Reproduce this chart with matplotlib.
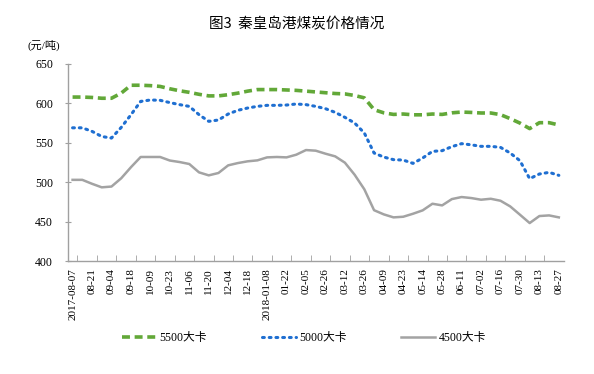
import matplotlib
matplotlib.use("Agg")
import matplotlib.pyplot as plt
import numpy as np

plt.rcParams['font.family'] = ['Liberation Serif', 'Noto Sans CJK SC', 'DejaVu Sans']

dates = ["2017-08-07", "08-14", "08-21", "08-28", "09-04", "09-11", "09-18", "09-25",
         "10-09", "10-16", "10-23", "10-30", "11-06", "11-13", "11-20", "11-27",
         "12-04", "12-11", "12-18", "12-25", "2018-01-08", "01-15", "01-22", "01-29",
         "02-05", "02-12", "02-26", "03-05", "03-12", "03-19", "03-26", "04-02",
         "04-09", "04-16", "04-23", "05-07", "05-14", "05-21", "05-28", "06-04",
         "06-11", "06-19", "07-02", "07-09", "07-16", "07-23", "07-30", "08-06",
         "08-13", "08-20", "08-27"]

k5500 = [608, 608, 607.5, 606.5, 606.5, 613, 623, 623, 622.5, 621.5,
         618.5, 616, 614, 611.5, 609.5, 609.5, 611, 613, 615.5, 617.5,
         617.5, 617.5, 617, 616.5, 615.5, 614.5, 613.5, 612.5, 612, 610,
         607, 592, 588, 586, 586.5, 585.5, 585.5, 586.5, 586, 588,
         589, 588.5, 587.8, 587.8, 585.7, 580.6, 575, 568, 575.5, 575.5, 572.6]

k5000 = [569, 569, 564.5, 558, 556, 569.5, 585.5, 602.5, 604.3, 603.9,
         601, 598.4, 596.2, 585.7, 577.2, 578.9, 586.5, 591.2, 594.1, 596.2,
         597.5, 597.5, 597.9, 599.2, 598.4, 596.2, 593.3, 588.6, 582.3, 575.1,
         562.4, 537, 531.9, 528.6, 528.1, 523.9, 530.7, 539.1, 540, 545.1,
         548.9, 547.4, 545.5, 545.5, 544.2, 537, 527.3, 504.5, 510.4, 512.5, 508.7]

k4500 = [503, 503, 498, 493.5, 494.5, 505, 519, 532, 532, 532,
         527.5, 525.6, 523.1, 512.5, 508.7, 511.7, 521.4, 524.3, 526.5, 527.7,
         531.5, 532, 531.5, 534.9, 540.8, 540, 536.2, 532.8, 524.8, 509.5,
         491, 464.5, 459.2, 455.4, 456.2, 460, 464.3, 472.7, 470.6, 478.6,
         481.2, 479.9, 477.8, 479, 476.5, 469.3, 458.8, 448.2, 457.1, 457.9, 455.4]

yticks = [400, 450, 500, 550, 600, 650]

fig = plt.figure(figsize=(5.94, 3.74), dpi=100)
ax = fig.add_axes([0.114, 0.302, 0.835, 0.527])

x = np.arange(len(dates))
ax.plot(x, k5500, color='#62a838', lw=2.6, linestyle=(0, (2.2, 1.3)), label='5500大卡')
ax.plot(x, k5000, color='#1f6fd1', lw=2.2, linestyle=(0, (0.6, 1.6)),
        dash_capstyle='round', label='5000大卡')
ax.plot(x, k4500, color='#a3a3a3', lw=1.8, label='4500大卡')

ax.set_xlim(-0.5, len(dates) - 0.5)
ax.set_ylim(400, 650)
ax.set_yticks(yticks)
ax.set_yticklabels([str(v) for v in yticks], fontsize=8.5)

ax.set_xticks(x[::2])
ax.set_xticklabels(dates[::2], rotation=90, fontsize=8)
ax.set_xticks(x[::2][:-1] + 0.5, minor=True)
ax.tick_params(axis='x', which='major', length=0, pad=5)
ax.tick_params(axis='x', which='minor', length=4, direction='in', color='#a0a0a0')
ax.tick_params(axis='y', which='major', length=5, direction='inout', color='#a0a0a0', pad=8)

for s in ['top', 'right']:
    ax.spines[s].set_visible(False)
for s in ['left', 'bottom']:
    ax.spines[s].set_color('#a0a0a0')
    ax.spines[s].set_linewidth(1.0)

fig.text(0.5, 0.935, '图3  秦皇岛港煤炭价格情况', ha='center', va='center',
         fontsize=10.5, family=['Noto Sans CJK SC', 'DejaVu Sans'])
fig.text(0.047, 0.878, '(元/吨)', ha='left', va='center', fontsize=8,
         family=['Liberation Serif', 'Noto Sans CJK SC'])

fig.legend(loc='center', bbox_to_anchor=(0.512, 0.097), ncol=3, frameon=False,
           fontsize=8.5, handlelength=2.9, columnspacing=4.6, handletextpad=0.3)

fig.savefig('out.png', dpi=100)
